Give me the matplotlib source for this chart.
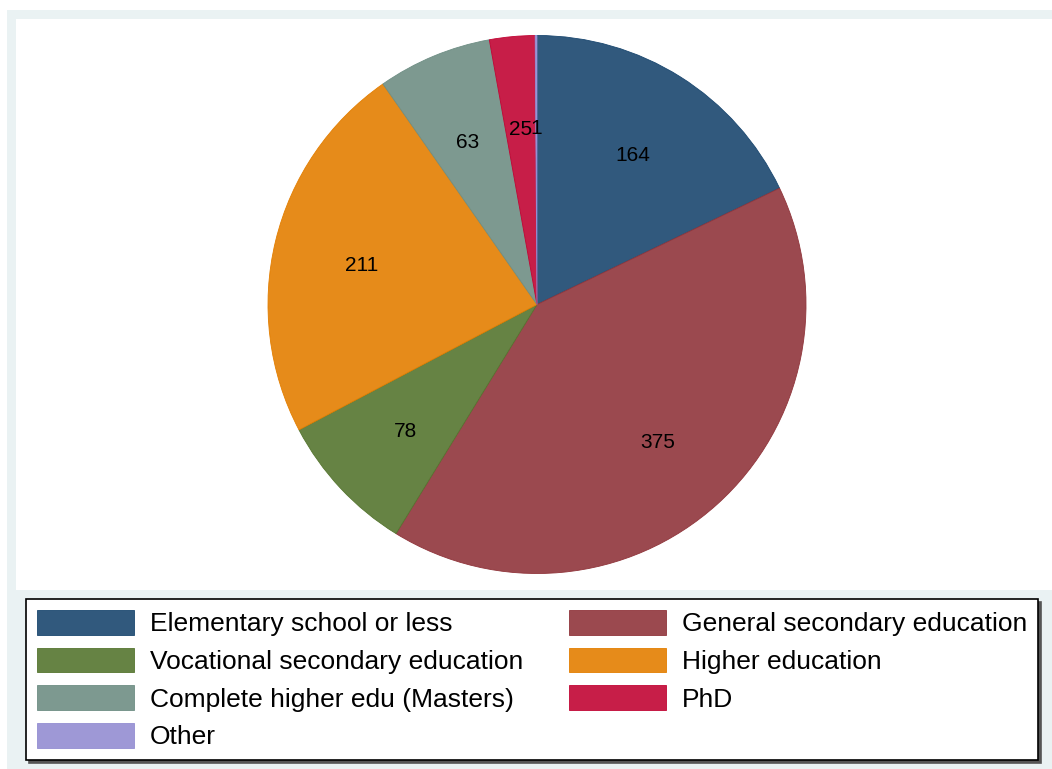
import matplotlib as mpl
mpl.use('agg')
import matplotlib.pyplot as plt
import matplotlib.transforms as mtransforms
from matplotlib.patches import Rectangle

plt.rcParams['font.family'] = ['Liberation Sans', 'DejaVu Sans']

categories = ['Elementary school or less', 'General secondary education',
              'Vocational secondary education', 'Higher education',
              'Complete higher edu (Masters)', 'PhD', 'Other']
counts = [164, 375, 78, 211, 63, 25, 1]
# stata s2color palette, full intensity (outline) and 90% fill
edge_colors = ['#1A476F', '#90353B', '#55752F', '#E37E00', '#6E8E84', '#C10534', '#938DD2']
fill_colors = ['#31597D', '#9B494F', '#668344', '#E68B1A', '#7D9990', '#C71E48', '#9E98D6']

W, H = 1052, 769
fig = plt.figure(figsize=(W / 100, H / 100), dpi=100, facecolor='white')

# graph region band
fig.patches.append(Rectangle((7 / W, 0), 1 - 7 / W, 1 - 10 / H, transform=fig.transFigure,
                             facecolor='#EAF2F3', edgecolor='none', zorder=-10))

# plot region
x0, x1, y0, y1 = 16, 1052, 19, 590
ax = fig.add_axes([x0 / W, 1 - y1 / H, (x1 - x0) / W, (y1 - y0) / H])
ax.set_facecolor('white')

wedges, texts = ax.pie(counts, labels=[str(c) for c in counts], colors=fill_colors,
                       startangle=90, counterclock=False, labeldistance=0.67,
                       wedgeprops=dict(linewidth=0.6),
                       textprops=dict(fontsize=15, color='black', ha='center', va='center'))
for w, ec in zip(wedges, edge_colors):
    w.set_edgecolor(ec)
# nudge labels down a few pixels like stata does
shift = mtransforms.ScaledTranslation(0, -4 / 100, fig.dpi_scale_trans)
for t in texts:
    t.set_transform(t.get_transform() + shift)

# map radius 1 -> 269 px, centre at (537, 304.5)
cx, cy, r = 537, 304.5, 269
ax.set_aspect('auto')
ax.set_xlim((x0 - cx) / r, (x1 - cx) / r)
ax.set_ylim(-(y1 - cy) / r, (cy - y0) / r)
ax.set_frame_on(True)
for s in ax.spines.values():
    s.set_visible(False)
ax.patch.set_visible(True)

# legend: column-wise order for two columns
order = [0, 2, 4, 6, 1, 3, 5]
lx0, ly0 = 26, 599
leg = fig.legend([wedges[i] for i in order], [categories[i] for i in order],
                 ncol=2, loc='upper left',
                 bbox_to_anchor=(lx0 / W, 1 - ly0 / H),
                 fontsize=19, handlelength=3.67, handleheight=1.06, handletextpad=0.6,
                 labelspacing=0.43, borderpad=0.42, borderaxespad=0, columnspacing=1.74,
                 fancybox=False, framealpha=1, edgecolor='black',
                 shadow=dict(ox=2, oy=-2, color='#555555', alpha=1))
leg.get_frame().set_linewidth(1.2)

fig.savefig('out.png', dpi=100, facecolor=fig.get_facecolor())
